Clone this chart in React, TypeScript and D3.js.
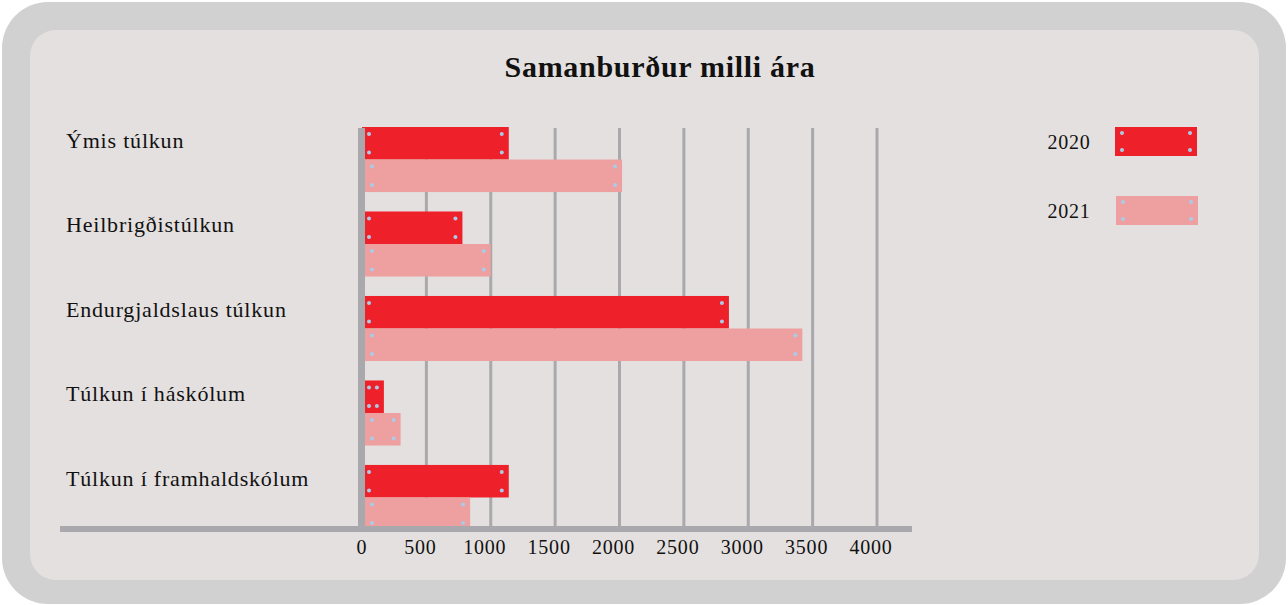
import { useEffect, useRef } from 'react';
import * as d3 from 'd3';

const categories = [
  'Ýmis túlkun',
  'Heilbrigðistúlkun',
  'Endurgjaldslaus túlkun',
  'Túlkun í háskólum',
  'Túlkun í framhaldskólum'
];
const years = ['2020', '2021'];
const values2020 = [1140, 780, 2850, 170, 1140];
const values2021 = [2020, 1000, 3420, 300, 840];
const xTicks = [0, 500, 1000, 1500, 2000, 2500, 3000, 3500, 4000];

const W = 1288;
const H = 605;
const RED = '#ee2029';
const PINK = '#eda09f';
const GRID = '#a9a8ac';
const RIVET = '#a9cbe8';
const SERIF = '"Liberation Serif", "DejaVu Serif", serif';

const App = () => {
  const svgRef = useRef<SVGSVGElement>(null);

  useEffect(() => {
    const svg = d3.select(svgRef.current);
    svg.selectAll('*').remove();

    // Frame
    svg.append('rect').attr('x', 2).attr('y', 2).attr('width', W - 4).attr('height', H - 3)
      .attr('rx', 46).attr('fill', '#d1d1d1');
    svg.append('rect').attr('x', 30).attr('y', 30).attr('width', 1229).attr('height', 550)
      .attr('rx', 26).attr('fill', '#e4e0df');

    // Title
    svg.append('text')
      .attr('x', 660).attr('y', 77)
      .attr('text-anchor', 'middle')
      .style('font-family', SERIF)
      .style('font-size', '30px')
      .style('letter-spacing', '0.7px')
      .style('font-weight', 'bold')
      .attr('fill', '#111')
      .text('Samanburður milli ára');

    // Scales
    const x = d3.scaleLinear().domain([0, 4000]).range([362, 877]);
    const y = d3.scaleBand().domain(categories).range([127, 530]).paddingInner(0.23).paddingOuter(0);
    const ySub = d3.scaleBand().domain(years).range([0, y.bandwidth()]);

    // Grid lines
    svg.append('g')
      .selectAll('line')
      .data(xTicks.filter(d => d > 0))
      .enter()
      .append('line')
      .attr('x1', d => x(d)).attr('x2', d => x(d))
      .attr('y1', 128).attr('y2', 528)
      .attr('stroke', GRID).attr('stroke-width', 3);

    // Bars
    const rows = categories.map((c, i) => ({ c, v: [values2020[i], values2021[i]] }));
    const rivets = (g: any, x0: number, x1: number, y0: number, h: number) => {
      const pts = [
        [x0 + 6, y0 + 7], [x0 + 6, y0 + h - 7],
        [x1 - 7, y0 + 7], [x1 - 7, y0 + h - 7]
      ];
      g.selectAll(null).data(pts).enter().append('circle')
        .attr('cx', (p: number[]) => p[0]).attr('cy', (p: number[]) => p[1])
        .attr('r', 2).attr('fill', RIVET);
    };

    rows.forEach(r => {
      const g = svg.append('g');
      years.forEach((yr, j) => {
        const y0 = (y(r.c) as number) + (ySub(yr) as number);
        const h = ySub.bandwidth();
        const x0 = j === 0 ? x(0) : x(0) + 3;
        const x1 = x(r.v[j]);
        g.append('rect')
          .attr('x', x0).attr('y', y0)
          .attr('width', x1 - x0).attr('height', h)
          .attr('fill', j === 0 ? RED : PINK);
        rivets(g, x0 + 1, x1, y0, h);
      });
    });

    // Axes
    svg.append('rect').attr('x', 358).attr('y', 128).attr('width', 7).attr('height', 402).attr('fill', GRID);
    svg.append('rect').attr('x', 60).attr('y', 526).attr('width', 852).attr('height', 6).attr('fill', GRID);

    // Tick labels
    svg.append('g')
      .selectAll('text')
      .data(xTicks)
      .enter()
      .append('text')
      .attr('x', d => x(d) + (d === 0 ? 0 : -6))
      .attr('y', 554)
      .attr('text-anchor', 'middle')
      .style('font-family', SERIF)
      .style('font-size', '20px')
      .style('letter-spacing', '0.8px')
      .attr('fill', '#111')
      .text(d => String(d));

    // Category labels
    svg.append('g')
      .selectAll('text')
      .data(categories)
      .enter()
      .append('text')
      .attr('x', 66)
      .attr('y', d => (y(d) as number) + 21)
      .style('font-family', SERIF)
      .style('font-size', '22px')
      .style('letter-spacing', '0.8px')
      .attr('fill', '#111')
      .text(d => d);

    // Legend
    const legend = svg.append('g');
    years.forEach((yr, i) => {
      const ly = 127 + i * 69;
      legend.append('text')
        .attr('x', 1069).attr('y', ly + 22)
        .attr('text-anchor', 'middle')
        .style('font-family', SERIF)
        .style('font-size', '20px')
        .style('letter-spacing', '0.8px')
        .attr('fill', '#111')
        .text(yr);
      legend.append('rect')
        .attr('x', 1115 + i).attr('y', ly)
        .attr('width', 82).attr('height', 29)
        .attr('fill', i === 0 ? RED : PINK);
      rivets(legend, 1115 + i + 1, 1115 + i + 82, ly - 1, 31);
    });
  }, []);

  return (
    <div style={{ position: 'fixed', left: 0, top: 0, width: W, height: H, background: '#fff' }}>
      <svg ref={svgRef} width={W} height={H} style={{ display: 'block' }}></svg>
    </div>
  );
};

export default App;
